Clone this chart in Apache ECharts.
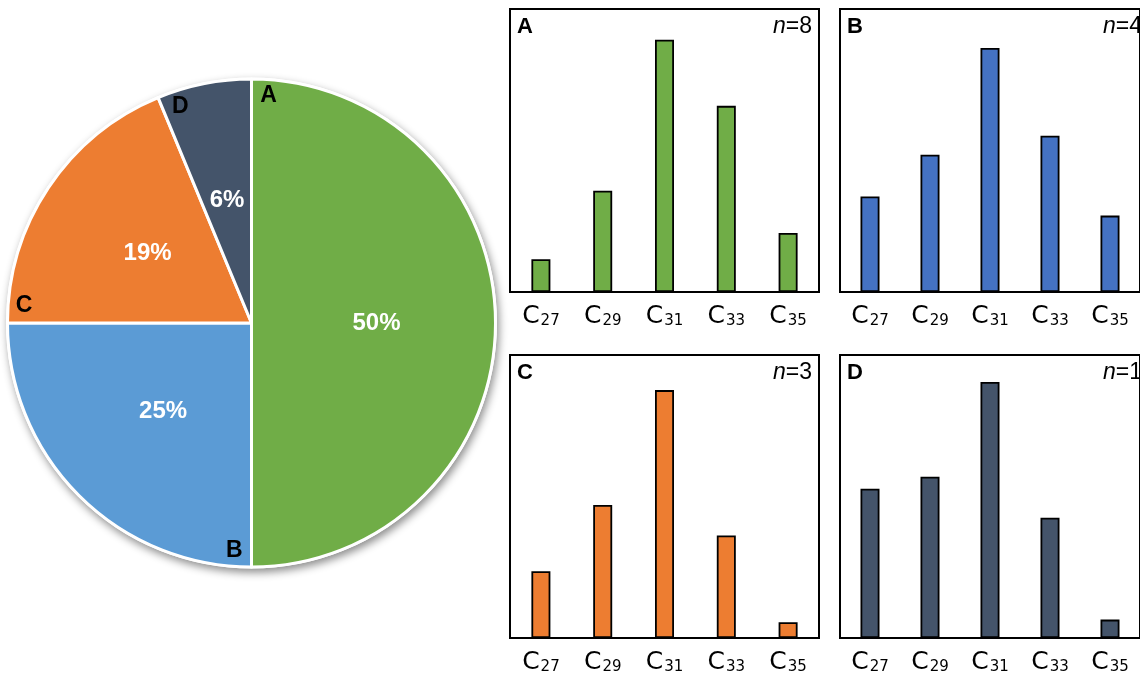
<!DOCTYPE html>
<html>
<head>
<meta charset="utf-8">
<script src="https://cdn.jsdelivr.net/npm/echarts@6.0.0/dist/echarts.min.js"></script>
<style>
  html, body { margin: 0; padding: 0; background: #fff; }
  #chart { width: 1140px; height: 676px; }
</style>
</head>
<body>
<div id="chart"></div>
<script>
// Group shares (number of samples per group)
const groups = ['A', 'B', 'C', 'D'];
const groupCounts = [8, 4, 3, 1];

// Chain-length distribution per group (relative abundance, %)
const chainLengths = ['27', '29', '31', '33', '35'];
const valuesA = [5.2, 16.1, 40.1, 29.6, 9.4];
const valuesB = [13.5, 19.4, 34.5, 22.1, 10.8];
const valuesC = [11.8, 23.5, 43.8, 18.1, 2.8];
const valuesD = [21.1, 22.8, 36.2, 17.0, 2.6];
const axisMax = [45, 40, 50, 40];

const pieColors = ['#70AD47', '#5B9BD5', '#ED7D31', '#44546A'];
const barColors = ['#70AD47', '#4472C4', '#ED7D31', '#44546A'];

const panelValues = [valuesA, valuesB, valuesC, valuesD];
const panelBoxes = [
  { left: 510, top: 9 },
  { left: 840, top: 9 },
  { left: 510, top: 355 },
  { left: 840, top: 355 }
];
const panelW = 309, panelH = 283;

const pieCenter = [251.5, 323];
const pieRadius = 244;

const chart = echarts.init(document.getElementById('chart'), null, { renderer: 'canvas' });

const grids = [], xAxes = [], yAxes = [], series = [], graphics = [];

panelBoxes.forEach((b, i) => {
  grids.push({
    left: b.left, top: b.top, width: panelW, height: panelH,
    show: true, borderColor: '#000', borderWidth: 2, backgroundColor: 'transparent'
  });
  xAxes.push({
    type: 'category', gridIndex: i, data: chainLengths,
    axisTick: { show: false },
    axisLine: { lineStyle: { color: '#000', width: 2 } },
    axisLabel: {
      interval: 0,
      hideOverlap: false,
      margin: 11,
      formatter: v => '{c|C}{s|' + v + '}',
      rich: {
        c: { fontFamily: 'DejaVu Sans', fontSize: 25, lineHeight: 26, color: '#000' },
        s: { fontFamily: 'DejaVu Sans', fontSize: 15, lineHeight: 15, color: '#000', verticalAlign: 'bottom', padding: [0, 0, 0, 1] }
      }
    }
  });
  yAxes.push({ type: 'value', gridIndex: i, min: 0, max: axisMax[i], show: false });
  series.push({
    type: 'bar', xAxisIndex: i, yAxisIndex: i, data: panelValues[i],
    barWidth: 19, silent: true,
    itemStyle: { color: barColors[i], borderColor: '#000', borderWidth: 1.8 }
  });

  // Panel letter and sample size
  graphics.push({
    type: 'text', x: b.left + 7, y: b.top + 18, z: 10,
    style: {
      text: groups[i], fontFamily: 'Liberation Sans', fontWeight: 'bold', fontSize: 22,
      fill: '#000', align: 'left', verticalAlign: 'middle', textAlign: 'left', textVerticalAlign: 'middle'
    }
  });
  graphics.push({
    type: 'text', x: b.left + panelW - 7, y: b.top + 18, z: 10,
    style: {
      text: '{i|n}{r|=' + groupCounts[i] + '}',
      fontFamily: 'Liberation Sans', fontSize: 23, fill: '#000',
      align: 'right', verticalAlign: 'middle', textAlign: 'right', textVerticalAlign: 'middle',
      rich: {
        i: { fontFamily: 'Liberation Sans', fontSize: 23, fontStyle: 'italic', fill: '#000' },
        r: { fontFamily: 'Liberation Sans', fontSize: 23, fill: '#000' }
      }
    }
  });
});

// Shadowed disc underneath the pie
series.push({
  type: 'pie', center: pieCenter, radius: pieRadius + 1.5, silent: true, z: 1,
  label: { show: false }, labelLine: { show: false },
  data: [{ value: 1 }],
  itemStyle: {
    color: '#fff', shadowBlur: 8, shadowOffsetX: 2, shadowOffsetY: 4,
    shadowColor: 'rgba(0,0,0,0.45)'
  }
});

// Group share pie
series.push({
  type: 'pie', center: pieCenter, radius: pieRadius, startAngle: 90, clockwise: true,
  silent: true, z: 2, percentPrecision: 0,
  data: groups.map((g, i) => ({ name: g, value: groupCounts[i], itemStyle: { color: pieColors[i] } })),
  itemStyle: { borderColor: '#fff', borderWidth: 3 },
  label: {
    show: true, position: 'inside', formatter: '{d}%',
    color: '#fff', fontFamily: 'Liberation Sans', fontWeight: 'bold', fontSize: 24
  },
  labelLine: { show: false },
  emphasis: { disabled: true }
});

// Group letters near the rim, at the leading edge of each slice
const total = groupCounts.reduce((a, b) => a + b, 0);
let cum = 0;
groupCounts.forEach((n, i) => {
  const startDeg = cum / total * 360;
  cum += n;
  const a = (startDeg + 4.3) * Math.PI / 180;
  const r = pieRadius - 16;
  graphics.push({
    type: 'text', z: 10,
    x: pieCenter[0] + r * Math.sin(a),
    y: pieCenter[1] - r * Math.cos(a),
    style: {
      text: groups[i], fontFamily: 'Liberation Sans', fontWeight: 'bold', fontSize: 23, fill: '#000',
      align: 'center', verticalAlign: 'middle', textAlign: 'center', textVerticalAlign: 'middle'
    }
  });
});

chart.setOption({
  backgroundColor: '#fff',
  animation: false,
  grid: grids,
  xAxis: xAxes,
  yAxis: yAxes,
  series: series,
  graphic: { elements: graphics }
});
</script>
</body>
</html>
